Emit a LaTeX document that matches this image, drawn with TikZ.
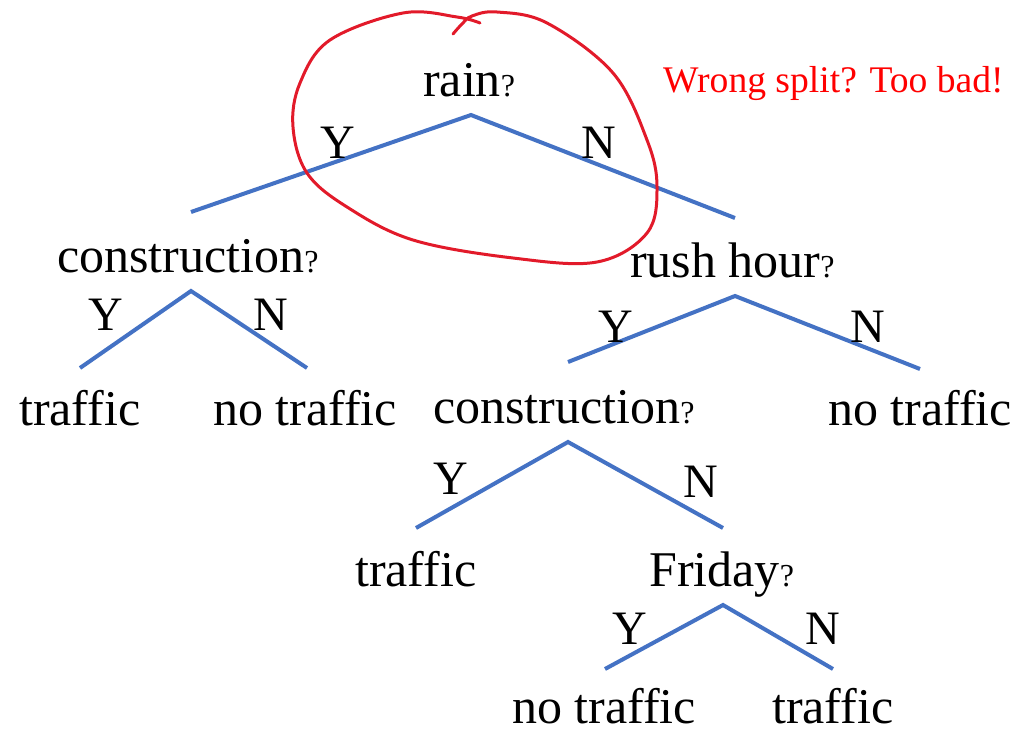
\documentclass[tikz,border=0pt]{standalone}
\usepackage{fontspec}
\setmainfont{Liberation Serif}
\definecolor{branch}{HTML}{4472C4}
\definecolor{ink}{RGB}{226,26,42}
\definecolor{note}{RGB}{255,0,0}
\newcommand{\qmark}{{\fontsize{32}{32}\selectfont ?}}
\begin{document}
\begin{tikzpicture}[x=1pt,y=-1pt,
  txt/.style={anchor=base west,inner sep=0pt,font=\fontsize{50}{60}\selectfont},
  yn/.style={anchor=base west,inner sep=0pt,font=\fontsize{48}{58}\selectfont},
  branchline/.style={draw=branch,line width=4pt}]
\useasboundingbox (0,0) rectangle (1019,733);

% question and leaf texts
\node[txt] (rain) at (423,97) {rain\qmark};
\node[txt] (cons1) at (57,272) {construction\qmark};
\node[txt] (leafA) at (19,425) {traffic};
\node[txt] (leafB) at (213,425) {no traffic};
\node[txt] (rush) at (630,277) {rush hour\qmark};
\node[txt] (cons2) at (433,423) {construction\qmark};
\node[txt] (leafC) at (828,425) {no traffic};
\node[txt] (leafD) at (355,586) {traffic};
\node[txt] (fri) at (649,586) {Friday\qmark};
\node[txt] (leafE) at (512,723) {no traffic};
\node[txt] (leafF) at (772,723) {traffic};

% remark
\node[anchor=base west,inner sep=0pt,text=note,font=\fontsize{37.6}{44}\selectfont]
  (remark) at (663,93) {Wrong split? Too bad!};

% branch points
\coordinate (r0) at (471,115);  \coordinate (rY) at (191,212); \coordinate (rN) at (735,218);
\coordinate (c0) at (191,291);  \coordinate (cY) at (80,368);  \coordinate (cN) at (307,368);
\coordinate (h0) at (735,296);  \coordinate (hY) at (568,362); \coordinate (hN) at (920,369);
\coordinate (k0) at (568,442);  \coordinate (kY) at (416,528); \coordinate (kN) at (723,528);
\coordinate (f0) at (723,605);  \coordinate (fY) at (605,669); \coordinate (fN) at (833,669);

\draw[branchline] (rY) -- (r0) -- (rN);
\draw[branchline] (cY) -- (c0) -- (cN);
\draw[branchline] (hY) -- (h0) -- (hN);
\draw[branchline] (kY) -- (k0) -- (kN);
\draw[branchline] (fY) -- (f0) -- (fN);

% Y / N labels
\node[yn] (rYl) at (320,158) {Y};
\node[yn] (rNl) at (581,158) {N};
\node[yn] (cYl) at (88,330) {Y};
\node[yn] (cNl) at (253,330) {N};
\node[yn] (hYl) at (598,342) {Y};
\node[yn] (hNl) at (850,342) {N};
\node[yn] (kYl) at (433,494) {Y};
\node[yn] (kNl) at (683,497) {N};
\node[yn] (fYl) at (612,644) {Y};
\node[yn] (fNl) at (805,644) {N};

% hand-drawn ring
\draw[ink,line width=3pt,line cap=round,line join=round]
  plot[smooth,tension=0.6] coordinates {(453,34) (462,24) (472,16) (497,12) (547,23)
  (613,73) (647,140) (657,187) (647,233) (597,262) (513,258) (413,240) (347,207)
  (307,173) (293,127) (300,83) (330,40) (403,13) (457,17) (480,23)};
\end{tikzpicture}
\end{document}
